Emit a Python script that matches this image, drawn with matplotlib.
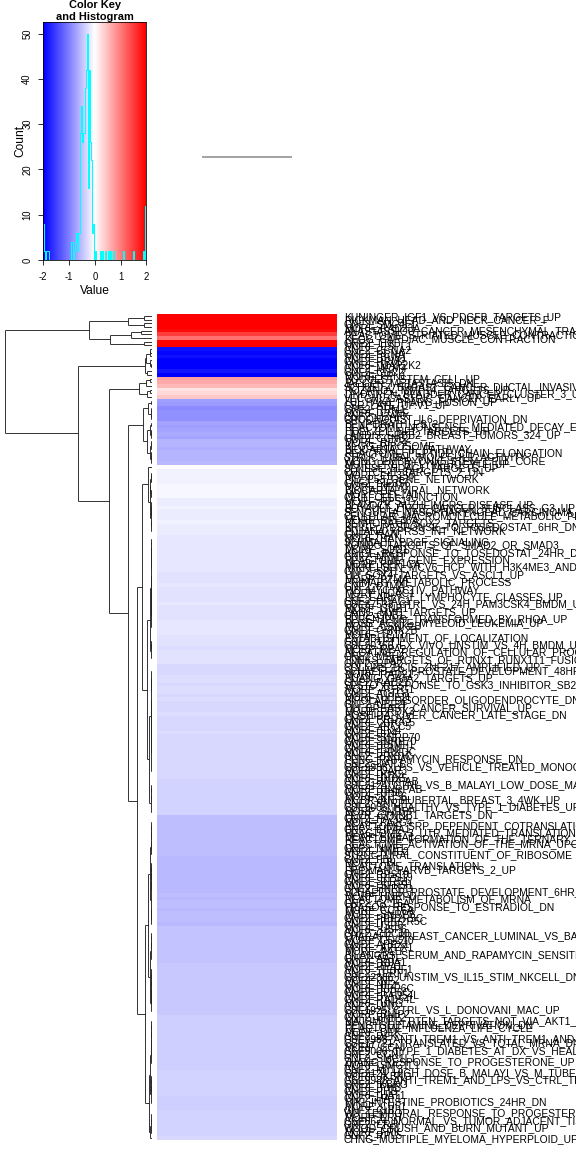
import numpy as np
import matplotlib
matplotlib.use('Agg')  # no display
import matplotlib.pyplot as plt
from matplotlib.colors import LinearSegmentedColormap, Normalize
from matplotlib.collections import LineCollection

plt.rcParams['font.family'] = ['Liberation Sans', 'DejaVu Sans']

# row scores, top to bottom as they appear in the heatmap (the matrix has two identical columns)
vals_red = [3.5, 3.2, 2.9, 2.6, 1.9, 1.5, 1.1, 2.4, 2.7]
vals_blue = [-1.85, -1.93, -1.84, -2.07, -1.99, -2.03, -1.80, -2.0]
vals_pink = [0.73, 0.64, 0.52, 0.22, 0.31, 0.42]
vals_mid = [-0.75, -0.78, -0.90, -0.88, -0.85, -0.87, -0.72, -0.74, -0.68, -0.66, -0.70,
            -0.60, -0.58, -0.62, -0.57, -0.59, -0.60, -0.56]
vals_white = [0.02]
vals_light = [
    -0.10, -0.11, -0.09, -0.12, -0.08, -0.07, -0.08, -0.06,
    -0.13, -0.14, -0.12, -0.13, -0.15, -0.13, -0.12, -0.14, -0.13, -0.14,
    -0.18, -0.17, -0.19, -0.18, -0.17, -0.18, -0.19, -0.18, -0.17, -0.18,
    -0.21, -0.22, -0.21, -0.20, -0.22, -0.21, -0.21, -0.22, -0.20, -0.21, -0.22, -0.21, -0.21,
    -0.19, -0.20, -0.19, -0.19,
    -0.24, -0.23, -0.24, -0.25, -0.23, -0.24, -0.24, -0.23,
    -0.29, -0.30, -0.29,
    -0.26, -0.27, -0.29, -0.26, -0.27,
    -0.29, -0.28, -0.29, -0.30, -0.29, -0.28, -0.29, -0.29, -0.30, -0.29, -0.28, -0.29, -0.30, -0.29, -0.29,
    -0.31, -0.30, -0.31, -0.31, -0.30, -0.31, -0.31, -0.30,
    -0.35, -0.34, -0.35, -0.36, -0.35, -0.34, -0.35, -0.35, -0.36, -0.35,
    -0.51, -0.50, -0.51, -0.52, -0.51, -0.50, -0.51, -0.51, -0.52, -0.51, -0.50,
    -0.55, -0.54, -0.55, -0.56, -0.55, -0.54, -0.55, -0.55, -0.56, -0.55,
    -0.52, -0.53, -0.52, -0.52, -0.53, -0.52, -0.51, -0.52, -0.53,
    -0.47, -0.46, -0.47, -0.48, -0.47, -0.46, -0.47, -0.47, -0.48, -0.47,
    -0.43, -0.42, -0.43, -0.44, -0.43, -0.42, -0.43, -0.43, -0.44, -0.43, -0.42, -0.43, -0.44, -0.43,
    -0.39, -0.38, -0.39, -0.40, -0.39, -0.38, -0.39, -0.39, -0.40, -0.39, -0.38, -0.39, -0.40, -0.39, -0.39,
    -0.35, -0.34, -0.35, -0.36, -0.35, -0.34, -0.35,
    -0.39, -0.38, -0.39, -0.39,
    -0.34, -0.33, -0.34, -0.35, -0.34, -0.33, -0.34,
    -0.29,
]

labels_red = [
    "KUNINGER_IGF1_VS_PDGFB_TARGETS_UP", "RICKMAN_HEAD_AND_NECK_CANCER_F", "GNF2_SMC4L1", "MORF_RAD23A",
    "ANASTASSIOU_CANCER_MESENCHYMAL_TRANSITION_SIGNATURE", "REACTOME_STRIATED_MUSCLE_CONTRACTION",
    "KEGG_CARDIAC_MUSCLE_CONTRACTION", "GNF2_TTK", "MORF_ESPL1",
]
labels_blue = ["GNF2_CCNA2", "GNF2_PCNA", "MORF_BUB1", "GNF2_RRM2", "MORF_MAP2K2", "GNF2_MCM4",
               "GNF2_CDC2", "MORF_FEN1"]
labels_pink = [
    "BOQUEST_STEM_CELL_UP", "JAEGER_METASTASIS_DN", "SCHUETZ_BREAST_CANCER_DUCTAL_INVASIVE_UP",
    "ROZANOV_MMP14_TARGETS_UP", "LINDGREN_BLADDER_CANCER_CLUSTER_3_UP", "VECCHI_GASTRIC_CANCER_EARLY_UP",
]
labels_mid = [
    "LUI_PAX8_PPARG_FUSION_UP", "CSR_LATE_UP.V1_UP", "GNF2_RRM1", "MORF_CCNF", "GNF2_H2AFX",
    "CROONQUIST_IL6_DEPRIVATION_DN", "BENPORATH_ES_2",
    "REACTOME_NONSENSE_MEDIATED_DECAY_ENHANCED_BY_THE_EXON_JUNCTION_COMPLEX",
    "HOELZEL_NF1_TARGETS_UP", "LANDIS_ERBB2_BREAST_TUMORS_324_UP", "GNF2_CCNB2", "MORF_RFC4",
    "KEGG_RIBOSOME", "BIOCARTA_EIF_PATHWAY", "REACTOME_PEPTIDE_CHAIN_ELONGATION",
    "STRUCTURAL_MOLECULE_ACTIVITY", "WONG_EMBRYONIC_STEM_CELL_CORE", "MORI_PRE_BI_LYMPHOCYTE_UP",
]
labels_white = ["SENESE_HDAC1_TARGETS_UP"]
labels_light = [
    "CUI_TCF21_TARGETS_2_DN", "MORF_EIF3S6", "PID_P53_GENE_NETWORK", "GNF2_EIF3S6", "MORF_NPM1",
    "BIOCARTA_VIRAL_NETWORK", "MORF_EEF1A1", "CELL_CELL_JUNCTION", "MORF_RPS11", "BLALOCK_ALZHEIMERS_DISEASE_UP",
    "BOYAULT_LIVER_CANCER_SUBCLASS_G3_UP", "SENGUPTA_NASOPHARYNGEAL_CARCINOMA_UP",
    "CELLULAR_MACROMOLECULE_METABOLIC_PROCESS", "MORF_RPL36A", "BENPORATH_SOX2_TARGETS",
    "KRIGE_RESPONSE_TO_TOSEDOSTAT_6HR_DN", "PUJANA_XPRSS_INT_NETWORK", "GNF2_RAN", "MORF_RAN",
    "SCHMAHL_PDGF_SIGNALING",
    "KONDO_TARGETS_OF_SMAD2_OR_SMAD3", "MORF_SOD1", "KRIGE_RESPONSE_TO_TOSEDOSTAT_24HR_DN", "GNF2_NPM1",
    "REACTOME_GENE_EXPRESSION", "MORF_PPP1CA", "MIKKELSEN_MCV6_HCP_WITH_H3K4ME3_AND_H3K27ME3", "GNF2_SPI1",
    "LIU_SOX4_TARGETS_VS_ASCL1_UP", "MORF_PTMA",
    "PRIMARY_METABOLIC_PROCESS", "GNF2_PTMA", "PID_MYC_ACTIV_PATHWAY", "MORF_HDAC1",
    "LEE_EARLY_T_LYMPHOCYTE_CLASSES_UP", "GNF2_HDAC1", "GSE37533_CTRL_VS_24H_PAM3CSK4_BMDM_UP", "MORF_GNB1",
    "DANG_MYC_TARGETS_UP", "GNF2_GNB1",
    "BERENJENO_TRANSFORMED_BY_RHOA_UP", "ROSS_ACUTE_MYELOID_LEUKEMIA_UP", "MORF_CSNK2B", "GNF2_CSNK2B",
    "MORF_TPT1", "ESTABLISHMENT_OF_LOCALIZATION", "GNF2_TPT1", "GSE20366_EX_VIVO_UNSTIM_VS_4H_BMDM_UP",
    "MORF_RPA2", "NEGATIVE_REGULATION_OF_CELLULAR_PROCESS",
    "GNF2_MSH6", "TONKS_TARGETS_OF_RUNX1_RUNX1T1_FUSION_HSC_DN", "GNF2_RPA2", "COLLINS_DCIS_ZNF217_AMPLIFIED_UP",
    "SCHAEFFER_PROSTATE_DEVELOPMENT_48HR_DN", "MORF_RAD21", "HUANG_GATA2_TARGETS_UP", "GNF2_RAD21",
    "SESTO_RESPONSE_TO_GSK3_INHIBITOR_SB216763", "MORF_ACTG1",
    "GNF2_ACTG1", "MORF_UBE2I", "BIPOLAR_DISORDER_OLIGODENDROCYTE_DN", "GNF2_UBE2I",
    "LIU_BREAST_CANCER_SURVIVAL_UP", "MORF_PRDX3", "HOSHIDA_LIVER_CANCER_LATE_STAGE_DN", "GNF2_PRDX3",
    "MORF_XRCC5", "GNF2_XRCC5",
    "MORF_EI24", "GNF2_EI24", "MORF_SNRP70", "GNF2_SNRP70", "MORF_PSMF1", "GNF2_PSMF1", "MORF_PRKDC",
    "GNF2_PRKDC", "PENG_RAPAMYCIN_RESPONSE_DN", "GNF2_DAP3",
    "GSE9988_LPS_VS_VEHICLE_TREATED_MONOCYTE_UP", "MORF_DAP3", "GNF2_DDX5", "MORF_DDX5", "GNF2_HNRPAB",
    "GSE2124_CTRL_VS_B_MALAYI_LOW_DOSE_MAC_UP", "MORF_HNRPAB", "GNF2_RPS6", "MORF_RPS6",
    "MCBRYAN_PUBERTAL_BREAST_3_4WK_UP",
    "GNF2_SNRPF", "GSE9006_HEALTHY_VS_TYPE_1_DIABETES_UP", "MORF_SNRPF", "FEVR_CTNNB1_TARGETS_DN",
    "GNF2_PA2G4", "MORF_PA2G4", "REACTOME_SRP_DEPENDENT_COTRANSLATIONAL_PROTEIN_TARGETING_TO_MEMBRANE",
    "GNF2_EIF4A1", "REACTOME_3_UTR_MEDIATED_TRANSLATIONAL_REGULATION", "MORF_EIF4A1",
    "REACTOME_FORMATION_OF_THE_TERNARY_COMPLEX_AND_SUBSEQUENTLY_THE_43S_COMPLEX",
    "REACTOME_ACTIVATION_OF_THE_MRNA_UPON_BINDING_OF_THE_CAP_BINDING_COMPLEX_AND_EIFS",
    "GNF2_NME1", "MORF_NME2", "STRUCTURAL_CONSTITUENT_OF_RIBOSOME", "GNF2_FBL", "MORF_FBL",
    "REACTOME_TRANSLATION", "FRIDMAN_PARVB_TARGETS_2_UP", "GNF2_RPS19",
    "MORF_RPS19", "GNF2_SFRS1", "MORF_SFRS1", "GNF2_HNRPD", "SCHAEFFER_PROSTATE_DEVELOPMENT_6HR_UP",
    "MORF_HNRPD", "REACTOME_METABOLISM_OF_MRNA", "GNF2_CCT6A", "FRASOR_RESPONSE_TO_ESTRADIOL_DN", "MORF_CCT6A",
    "MORF_SNRPB", "GNF2_PPP2R5C", "MORF_PPP2R5C", "GNF2_USP6", "MORF_USP6", "GNF2_CDC10",
    "CHARAFE_BREAST_CANCER_LUMINAL_VS_BASAL_DN", "MORF_CDC10", "GNF2_APEX1", "MORF_APEX1",
    "MORF_AATF", "BILANGES_SERUM_AND_RAPAMYCIN_SENSITIVE_GENES", "GNF2_AATF", "MORF_RPA1", "GNF2_RPA1",
    "MORF_TERF1", "GNF2_TERF1", "GSE22886_UNSTIM_VS_IL15_STIM_NKCELL_DN", "MORF_NF2", "GNF2_NF2",
    "MORF_PPP6C", "GNF2_PPP6C", "MORF_RAD54L", "GNF2_RAD54L", "MORF_UNG", "GNF2_UNG",
    "GSE1925_CTRL_VS_L_DONOVANI_MAC_UP", "MORF_BNIP2", "GNF2_BNIP2", "MAJUMDER_PTEN_TARGETS_NOT_VIA_AKT1_UP",
    "PENG_GLUTAMINE_DEPRIVATION_DN", "REACTOME_INFLUENZA_LIFE_CYCLE", "MORF_DEK", "GNF2_DEK",
    "GSE9988_ANTI_TREM1_VS_ANTI_TREM1_AND_LPS_MONOCYTES_UP", "GSE17721_TRANSLATED_VS_TOTAL_MRNA_DN",
    "MORF_CCNI", "GSE9006_TYPE_1_DIABETES_AT_DX_VS_HEALTHY_PBMC_DN", "GNF2_CCNI", "GNF2_SMC1L1",
    "ZHANG_RESPONSE_TO_PROGESTERONE_UP", "MORF_SMC1L1", "GNF2_MYL3",
    "GSE2124_HIGH_DOSE_B_MALAYI_VS_M_TUBERCULOSIS_MAC_UP", "MORF_IKBKG",
    "GSE9988_ANTI_TREM1_AND_LPS_VS_CTRL_TREATED_MONOCYTES_UP", "GNF2_IKBKG", "MORF_PHB", "GNF2_PHB",
    "MORF_HAT1",
    "GNF2_HAT1", "MIKI_INTESTINE_PROBIOTICS_24HR_DN", "MORF_CUL1", "GNF2_CUL1",
    "WU_TEMPORAL_RESPONSE_TO_PROGESTERONE_UP", "MORF_ERH", "GSE6674_NORMAL_VS_TUMOR_ADJACENT_TISSUE_UP",
    "GNF2_ERH", "WOOD_CRUSH_AND_BURN_MUTANT_UP", "MORF_FRK", "GNF2_RPL5",
    "CHNG_MULTIPLE_MYELOMA_HYPERPLOID_UP",
]

vals = np.array(vals_red + vals_blue + vals_pink + vals_mid + vals_white + vals_light)
labels = labels_red + labels_blue + labels_pink + labels_mid + labels_white + labels_light
labels = (labels + [''] * len(vals))[:len(vals)]
n = len(vals)

mat = np.column_stack([vals, vals])
shown = np.clip(mat, -2, 2)
breaks = np.linspace(-2, 2, 101)
cmap = LinearSegmentedColormap.from_list('bwr_key', ['#0000FF', '#FFFFFF', '#FF0000'], N=100)
norm = Normalize(-2, 2)


# complete linkage, merging only neighbouring rows so the drawn order is kept
def row_dendrogram(v):
    clusters = [(x, x, float(i), 0.0) for i, x in enumerate(v)]  # lo, hi, pos, height
    segs = []
    while len(clusters) > 1:
        d = [np.sqrt(2) * (max(a[1], b[1]) - min(a[0], b[0])) for a, b in zip(clusters[:-1], clusters[1:])]
        k = int(np.argmin(d))
        a, b = clusters[k], clusters[k + 1]
        h = d[k]
        segs.append([(a[3], a[2]), (h, a[2])])
        segs.append([(b[3], b[2]), (h, b[2])])
        segs.append([(h, a[2]), (h, b[2])])
        clusters[k:k + 2] = [(min(a[0], b[0]), max(a[1], b[1]), (a[2] + b[2]) / 2, h)]
    return segs, clusters[0][3]


W, H = 576, 1152
fig = plt.figure(figsize=(W / 72, H / 72), dpi=72)


def px_axes(x0, y0, x1, y1):
    return fig.add_axes([x0 / W, 1 - y1 / H, (x1 - x0) / W, (y1 - y0) / H])


# colour key + histogram
ax_key = px_axes(43.3, 21.7, 146.3, 260)
counts, _ = np.histogram(shown.ravel(), bins=breaks)
ymax = counts.max() / 0.95
mids = (breaks[:-1] + breaks[1:]) / 2
ax_key.imshow(mids[None, :], cmap=cmap, norm=norm, aspect='auto', extent=(-2, 2, 0, ymax))
ax_key.step(breaks, np.append(counts, counts[-1]), where='post', color='cyan', lw=1)
ax_key.set_xlim(-2, 2)
ax_key.set_ylim(0, ymax)
ax_key.set_xticks([-2, -1, 0, 1, 2])
ax_key.set_xticklabels(['-2', '-1', '0', '1', '2'], fontsize=9.5)
yt = np.arange(0, counts.max() + 1, 10)
ax_key.set_yticks(yt)
ax_key.set_yticklabels([str(t) for t in yt], fontsize=9.5, rotation=90, va='center')
ax_key.tick_params(length=5, width=0.8)
ax_key.tick_params(axis='x', pad=7)
ax_key.tick_params(axis='y', pad=6)
ax_key.set_xlabel('Value', fontsize=12)
ax_key.set_ylabel('Count', fontsize=12)
ax_key.xaxis.set_label_coords(0.5, (260 - 285) / 238.3)
ax_key.yaxis.set_label_coords((26 - 43.3) / 103, 0.5)
for s in ax_key.spines.values():
    s.set_linewidth(0.8)
fig.text(94.8 / W, 1 - 8 / H, 'Color Key', ha='center', va='baseline', fontsize=11, fontweight='bold')
fig.text(94.8 / W, 1 - 20 / H, 'and Histogram', ha='center', va='baseline', fontsize=11, fontweight='bold')

# column dendrogram: the two columns are identical, so they join at height 0
ax_col = px_axes(157.3, 20, 336.7, 294)
hc = np.sqrt(np.sum((mat[:, 0] - mat[:, 1]) ** 2))
ax_col.add_collection(LineCollection([[(1, 0), (1, hc)], [(2, 0), (2, hc)], [(1, hc), (2, hc)]],
                                     colors='#888888', linewidths=1.5))
ax_col.set_xlim(0.5, 2.5)
ax_col.set_ylim(hc - 1, hc + 1)
ax_col.axis('off')

# row dendrogram
ax_den = px_axes(5, 314, 152, 1140)
segs, top = row_dendrogram(vals)
ax_den.add_collection(LineCollection(segs, colors='#222222', linewidths=0.9))
ax_den.set_xlim(top, 0)
ax_den.set_ylim(n - 0.5, -0.5)
ax_den.axis('off')

# heatmap
ax_hm = px_axes(157.3, 314, 336.7, 1140)
ax_hm.imshow(shown, cmap=cmap, norm=norm, aspect='auto', interpolation='nearest',
             extent=(0.5, 2.5, n - 0.5, -0.5))
ax_hm.set_xticks([])
ax_hm.set_yticks(np.arange(n))
ax_hm.set_yticklabels(labels, fontsize=10.2)
ax_hm.yaxis.tick_right()
ax_hm.tick_params(axis='y', length=0, pad=7)
for s in ax_hm.spines.values():
    s.set_visible(False)

fig.savefig('out.png', dpi=72)
